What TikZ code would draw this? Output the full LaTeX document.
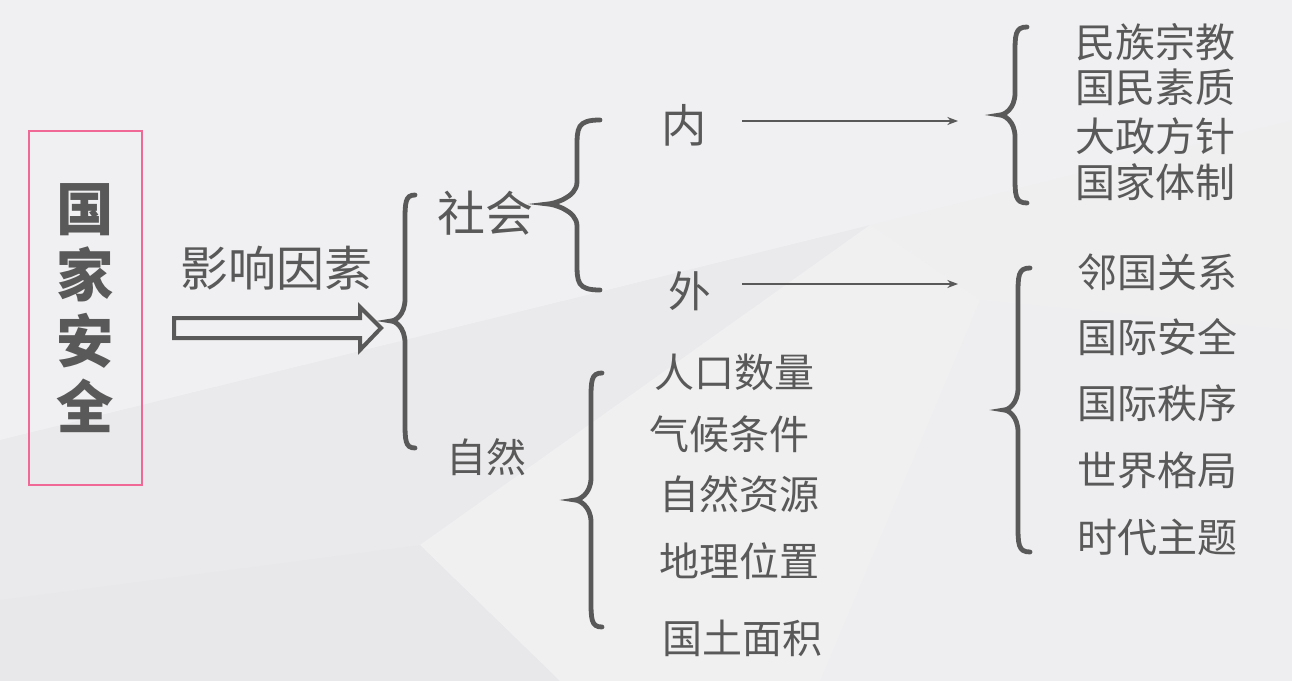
\documentclass[tikz,border=0pt]{standalone}
\usepackage{fontspec}
\setmainfont{Noto Sans CJK SC}
\usepackage{tikz}
\usetikzlibrary{arrows.meta}
\definecolor{ink}{RGB}{89, 89, 89}
\definecolor{rose}{RGB}{240, 104, 150}
\definecolor{paper}{RGB}{237, 237, 239}

\begin{document}
\begin{tikzpicture}[x=0.75pt, y=-0.75pt, >={Stealth[length=8pt, width=6pt]},
    topic/.style={text=ink, inner sep=0pt, font=\fontsize{36}{40}\selectfont},
    item/.style={text=ink, inner sep=0pt, font=\fontsize{30}{34}\selectfont},
    curly/.style={draw=ink, line width=3.6pt, line cap=round}]
    \useasboundingbox (0,0) rectangle (1292,681);

    % Background facets
    \fill[paper] (0,0) rectangle (1292,681);
    \fill[white, opacity=0.22] (0,0) -- (1292,0) -- (1292,120) -- (870,225) -- (0,440) -- cycle;
    \fill[white, opacity=0.12] (870,225) -- (1292,120) -- (1292,330) -- (980,300) -- cycle;
    \fill[black, opacity=0.012] (0,440) -- (870,225) -- (420,545) -- (0,600) -- cycle;
    \fill[white, opacity=0.18] (420,545) -- (870,225) -- (980,300) -- (820,681) -- (560,681) -- cycle;
    \fill[black, opacity=0.018] (0,600) -- (420,545) -- (560,681) -- (0,681) -- cycle;
    \fill[white, opacity=0.10] (980,300) -- (1292,330) -- (1292,681) -- (820,681) -- cycle;

    % Title box
    \node[draw=rose, line width=1.5pt, minimum width=84.75pt, minimum height=265.5pt,
        text=ink, align=center, font=\fontsize{43}{49.5}\selectfont\bfseries]
        (title) at (85.5,308) {国\\家\\安\\全};

    % Hollow arrow
    \node[topic] (factor) at (276,268) {影响因素};
    \draw[ink, line width=3pt, line join=miter]
        (174,318) -- (360,318) -- (360,307) -- (381,328) -- (360,350) -- (360,338) -- (174,338) -- cycle;

    % Braces: end x / stem x / tip x / top y / tip y / bottom y
    \foreach \xe/\xv/\xt/\yt/\ym/\yb in {415/405/391/195/321/448, 600/577/548/120/204/290,
        1027/1015/1000/27/115/203, 1030/1018/1004/268/410/552, 602/591/575/373/500/627}
        \draw[curly] (\xe,\yt) .. controls (\xv,\yt) and (\xv,{\yt+8}) .. (\xv,{\yt+28})
            -- (\xv,{\ym-22}) .. controls (\xv,{\ym-6}) and ({\xt+4},\ym) .. (\xt,\ym)
            .. controls ({\xt+4},\ym) and (\xv,{\ym+6}) .. (\xv,{\ym+22})
            -- (\xv,{\yb-28}) .. controls (\xv,{\yb-8}) and (\xv,\yb) .. (\xe,\yb);

    % First level
    \node[topic] (society) at (485,213) {社会};
    \node[item] (nature) at (486,457) {自然};

    % Inner and outer
    \node[topic, font=\fontsize{34}{38}\selectfont] (inner) at (684,125) {内};
    \node[topic, font=\fontsize{32}{36}\selectfont] (outer) at (690,291) {外};
    \coordinate (inA) at (742,121);
    \coordinate (inB) at (958,121);
    \coordinate (outA) at (742,284);
    \coordinate (outB) at (958,284);
    \draw[->, ink, line width=1.1pt] (inA) -- (inB);
    \draw[->, ink, line width=1.1pt] (outA) -- (outB);

    % Inner factors
    \foreach \name/\txt/\y in {in1/民族宗教/42, in2/国民素质/87, in3/大政方针/136, in4/国家体制/182}
        \node[item] (\name) at (1155,\y) {\txt};

    % Outer factors
    \foreach \name/\txt/\y in {out1/邻国关系/272, out2/国际安全/337, out3/国际秩序/403,
        out4/世界格局/470, out5/时代主题/537}
        \node[item] (\name) at (1157,\y) {\txt};

    % Natural factors
    \foreach \name/\txt/\x/\y in {nat1/人口数量/734/372, nat2/气候条件/729/434, nat3/自然资源/739/494,
        nat4/地理位置/739/561, nat5/国土面积/742/638}
        \node[item] (\name) at (\x,\y) {\txt};
\end{tikzpicture}
\end{document}
